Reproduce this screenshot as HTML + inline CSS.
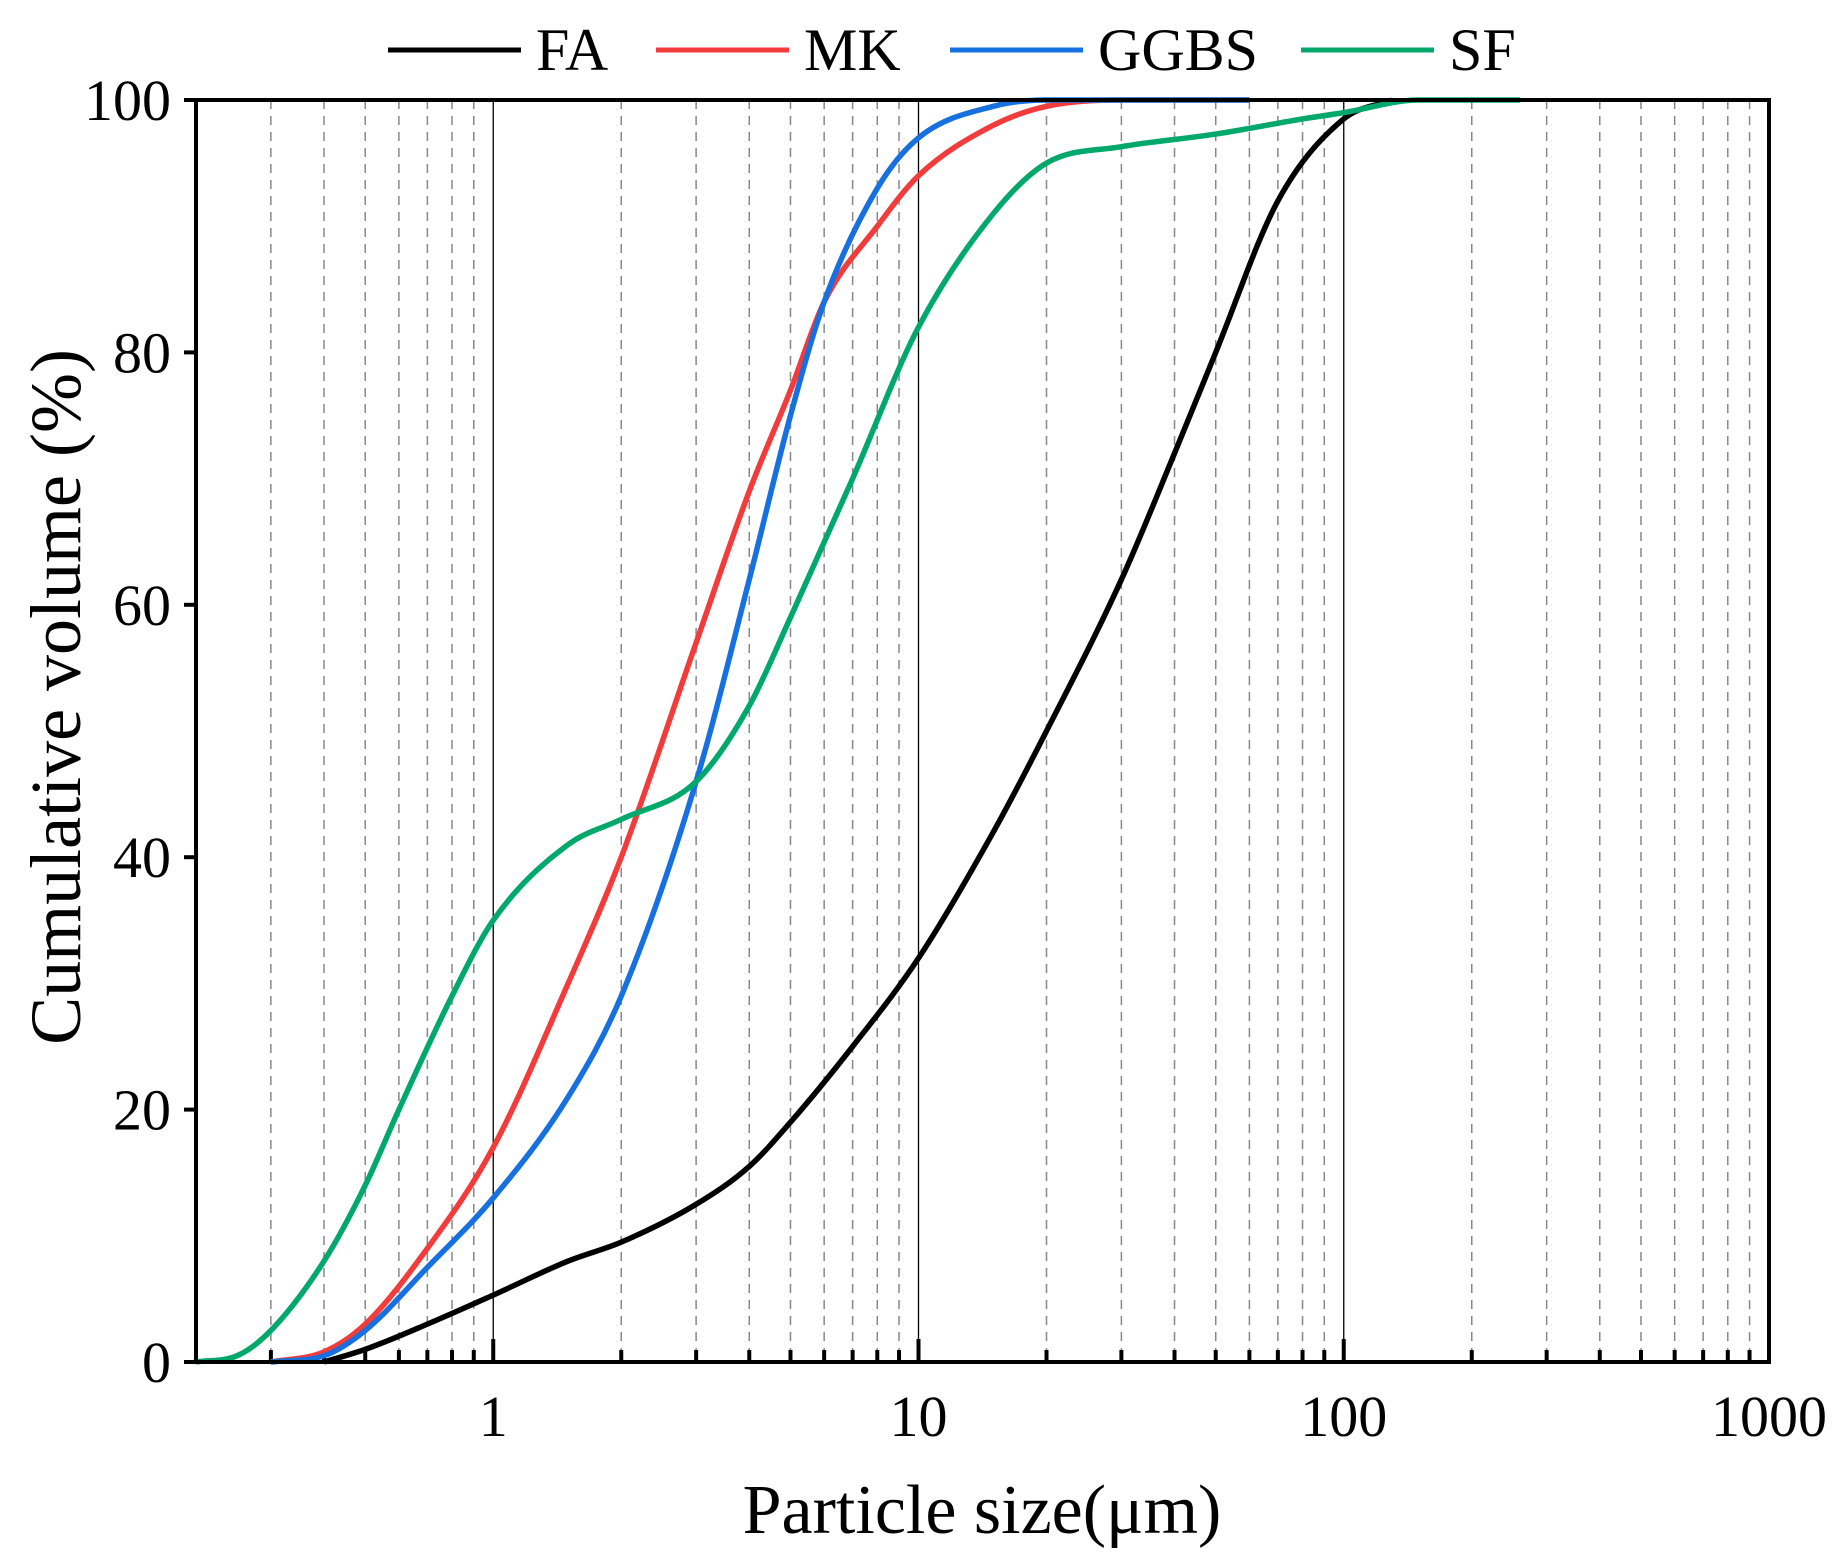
<!DOCTYPE html>
<html><head><meta charset="utf-8"><style>
html,body{margin:0;padding:0;background:#fff;}
svg text{font-family:"Liberation Serif",serif;fill:#000;}
</style></head><body>
<svg id="chart" width="1845" height="1560" viewBox="0 0 1845 1560" xmlns="http://www.w3.org/2000/svg"></svg>
<script>
const seriesNames = ["FA","MK","GGBS","SF"];
const seriesColors = ["#000000","#f23c3c","#1670e0","#00a86b"];
const faX = [0.4,0.5,0.7,1,1.5,2,3,4,5,7,10,15,20,30,40,50,70,100,130];
const faY = [0,1,3,5.3,8,9.5,12.5,15.5,19,25,32,42,50,62,72,80,92,98.5,100];
const mkX = [0.3,0.4,0.5,0.7,1,1.5,2,3,4,5,6,8,10,15,20,30,60];
const mkY = [0,0.8,3,9,17,30,40,57,69,77,84,90,94,98,99.5,100,100];
const ggX = [0.3,0.4,0.5,0.7,1,1.5,2,3,4,5,6,8,10,15,20,60];
const ggY = [0,0.5,2.5,7.5,13,21,29,46,62,75,84,93,97,99.5,100,100];
const sfX = [0.2,0.25,0.3,0.4,0.5,0.6,0.8,1,1.5,2,3,4,5,7,10,15,20,30,50,80,100,150,260];
const sfY = [0,0.5,2.5,8,14,20,29,35,41,43,46,52,59,70,82,91,95,96.3,97.3,98.5,99,100,100];
const yTicks = [0,20,40,60,80,100];
const xTicks = [1,10,100,1000];

const L=196,R=1769,T=100,B=1362;
const xMin=Math.log10(0.2),xMax=Math.log10(1000);
function sx(v){return L+(Math.log10(v)-xMin)/(xMax-xMin)*(R-L);}
function sy(v){return B-v/100*(B-T);}
const svg=document.getElementById('chart');
const NS="http://www.w3.org/2000/svg";
function el(tag,attrs,parent){const e=document.createElementNS(NS,tag);for(const k in attrs)e.setAttribute(k,attrs[k]);(parent||svg).appendChild(e);return e;}

const grid=el('g',{});


for(let d=-1;d<=2;d++){for(let m=1;m<10;m++){const v=m*Math.pow(10,d);if(v<=0.2||v>=1000)continue;const x=sx(v);
 if(m===1){el('line',{x1:x,x2:x,y1:T,y2:B,stroke:'#000','stroke-width':1.3},grid);}
 else{el('line',{x1:x,x2:x,y1:T,y2:B,stroke:'#888','stroke-width':1.5,'stroke-dasharray':'9,7'},grid);}
 el('line',{x1:x,x2:x,y1:B,y2:B-(m===1?23:12),stroke:'#000','stroke-width':4},grid);
}}
// monotone cubic (Fritsch-Carlson) in pixel space
function pathFor(X,Y){const p=X.map((x,i)=>[sx(x),sy(Y[i])]);const n=p.length;
 const dx=[],s=[];for(let i=0;i<n-1;i++){dx.push(p[i+1][0]-p[i][0]);s.push((p[i+1][1]-p[i][1])/dx[i]);}
 const m=[s[0]];for(let i=1;i<n-1;i++){m.push(s[i-1]*s[i]<=0?0:(s[i-1]+s[i])/2);}m.push(s[n-2]);
 for(let i=0;i<n-1;i++){if(s[i]===0){m[i]=0;m[i+1]=0;continue;}const a=m[i]/s[i],b=m[i+1]/s[i],h=a*a+b*b;if(h>9){const t=3/Math.sqrt(h);m[i]=t*a*s[i];m[i+1]=t*b*s[i];}}
 let d='M'+p[0][0]+','+p[0][1];
 for(let i=0;i<n-1;i++){const h=dx[i]/3;d+=` C${p[i][0]+h},${p[i][1]+m[i]*h} ${p[i+1][0]-h},${p[i+1][1]-m[i+1]*h} ${p[i+1][0]},${p[i+1][1]}`;}
 return d;}
const xs=[faX,mkX,ggX,sfX],ys=[faY,mkY,ggY,sfY];
for(let s=0;s<4;s++){const p=el('path',{d:pathFor(xs[s],ys[s]),fill:'none',stroke:seriesColors[s],'stroke-width':5.5,'stroke-linejoin':'round'});
 
 }
const fr=el('rect',{x:L,y:T,width:R-L,height:B-T,fill:'none',stroke:'#000','stroke-width':4});


yTicks.forEach(v=>{const y=sy(v);el('line',{x1:L-12,x2:L,y1:y,y2:y,stroke:'#000','stroke-width':4});
 const t=el('text',{x:L-25,y:y+20,'text-anchor':'end','font-size':58});t.textContent=v;
 
 });
xTicks.forEach(v=>{const t=el('text',{x:sx(v),y:1436,'text-anchor':'middle','font-size':58});t.textContent=v;
 
 });
const xt=el('text',{x:982,y:1533,'text-anchor':'middle','font-size':70});xt.textContent='Particle size(μm)';


const yt=el('text',{x:0,y:0,'text-anchor':'middle','font-size':72,transform:'translate(80,697) rotate(-90)'});yt.textContent='Cumulative volume (%)';


const lx=[388,656,950,1301];
for(let s=0;s<4;s++){const g=el('g',{});
 
 
 el('line',{x1:lx[s],x2:lx[s]+133,y1:50,y2:50,stroke:seriesColors[s],'stroke-width':5},g);
 const t=el('text',{x:lx[s]+148,y:70,'font-size':60},g);t.textContent=seriesNames[s];}
</script>
</body></html>
